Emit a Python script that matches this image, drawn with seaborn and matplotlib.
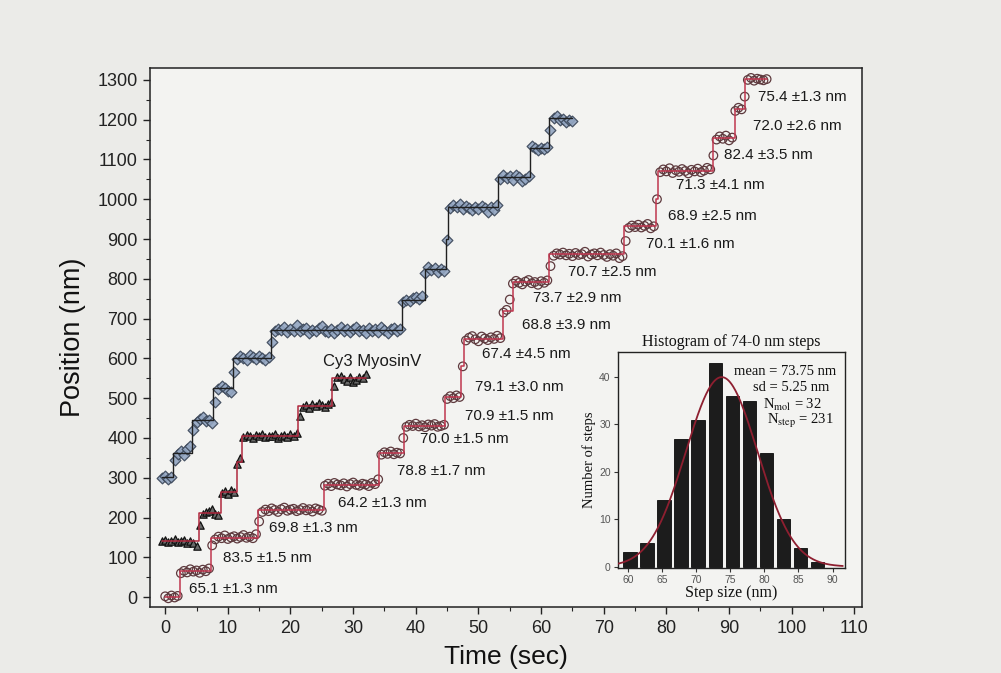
import numpy as np
import pandas as pd
import matplotlib
matplotlib.use("Agg")
import matplotlib.pyplot as plt
import seaborn as sns

# ---------------- data ----------------
FRAME_DT = 0.5  # seconds between frames

# Trace with open circles (annotated trace)
circ_t0 = 0.0
circ_pos = [
    2, -3, 4, -1, 3,
    60, 66, 62, 70, 64, 67, 61, 69, 65, 72,
    130, 145, 152, 148, 155, 146, 150, 153, 147, 151, 156, 149, 152, 148, 158,
    190, 214, 220, 216, 223, 219, 214, 221, 225, 217, 220, 222, 216, 219, 224, 218, 221, 215, 223, 220, 217,
    280, 285, 279, 287, 283, 281, 286, 278, 284, 288, 282, 280, 285, 283, 279, 287, 284, 296,
    358, 364, 360, 366, 359, 363, 361, 400,
    428, 433, 430, 436, 429, 432, 427, 434, 431, 435, 428, 430, 433,
    498, 505, 500, 507, 503,
    580,
    645, 652, 656, 648, 643, 655, 650, 646, 653, 649, 657, 651,
    715, 722, 748,
    788, 795, 790, 786, 793, 797, 789, 792, 785, 794, 790, 796,
    832, 858, 864, 861, 866, 859, 863, 857, 865, 860, 862, 868, 856, 861, 864, 859, 866, 860, 855, 862, 858, 864, 852, 857,
    895, 928, 934, 930, 936, 929, 933, 938, 927, 932,
    1000,
    1068, 1075, 1070, 1078, 1066, 1073, 1069, 1076, 1071, 1065, 1074, 1070, 1077, 1068, 1072, 1079, 1075,
    1110,
    1150, 1158, 1152, 1160, 1148, 1155,
    1222, 1230, 1226, 1258,
    1300, 1305, 1298, 1303, 1301, 1299, 1302,
]
circ_levels = [0, 65, 149, 218, 283, 361, 431, 502, 581, 648, 718, 791, 862, 932,
               1001, 1072, 1155, 1227, 1302]
circ_step_times = [2.4, 7.3, 14.8, 25.3, 34.1, 38.1, 44.7, 47.2, 47.7, 54.0, 55.5,
                   61.2, 73.2, 78.3, 78.7, 87.4, 91.0, 92.6]
circ_t_start, circ_t_end = 0.0, 96.0

# Trace with diamonds
dia_t0 = -0.5
dia_pos = [
    300, 305, 298, 303,
    345, 360, 366, 358, 372, 380,
    420, 440, 448, 452, 443, 446, 438,
    490, 522, 530, 526, 519, 515,
    565, 598, 605, 600, 596, 608, 603, 599, 606, 601, 597, 604,
    640, 668, 675, 671, 679, 666, 673, 670, 684, 669, 674, 677, 665, 672, 668, 676, 681, 670, 667,
    674, 663, 671, 678, 669, 673, 666, 675, 680, 668, 672, 664, 677, 670, 674, 667, 679, 671, 665,
    673, 676, 669, 674,
    742, 748, 745, 752, 755, 749, 758,
    815, 830, 822, 826, 818, 824, 820,
    898,
    978, 985, 980, 988, 976, 983, 979, 972, 981, 975, 984, 977, 969, 980, 974, 986,
    1050, 1060, 1054, 1058, 1048, 1062, 1055, 1045, 1052, 1058,
    1135, 1128, 1124, 1130, 1126, 1132,
    1175, 1205, 1210, 1198, 1202, 1195, 1200, 1196,
]
dia_levels = [302, 362, 445, 525, 601, 672, 747, 825, 900, 981, 1056, 1129, 1204]
dia_step_times = [1.3, 4.3, 7.6, 10.8, 16.9, 37.8, 41.4, 44.8, 45.2, 53.1, 58.2, 61.2]
dia_t_start, dia_t_end = -0.5, 65.0

# Trace with triangles (Cy3 MyosinV)
tri_t0 = -0.5
tri_pos = [
    140, 143, 138, 142, 145, 139, 141, 144, 137, 142, 135, 128,
    180, 208, 213, 216, 221, 210, 206,
    262, 266, 260, 268, 265,
    335, 350,
    403, 408, 404, 400, 407, 405, 410, 402, 406, 404, 409, 401, 405, 407, 403, 411, 406, 412,
    455, 478, 483, 476, 485, 480, 487, 482, 479, 486, 490,
    530, 552, 557, 549, 544, 552, 540, 546, 553, 550, 562,
]
tri_levels = [141, 211, 264, 340, 405, 480, 550]
tri_step_times = [5.4, 8.9, 11.5, 12.3, 21.2, 26.6]
tri_t_start, tri_t_end = -0.5, 32.0

# Step-size annotations
step_labels = ["65.1 \u00b11.3 nm", "83.5 \u00b11.5 nm", "69.8 \u00b11.3 nm", "64.2 \u00b11.3 nm",
               "78.8 \u00b11.7 nm", "70.0 \u00b11.5 nm", "70.9 \u00b11.5 nm", "79.1 \u00b13.0 nm",
               "67.4 \u00b14.5 nm", "68.8 \u00b13.9 nm", "73.7 \u00b12.9 nm", "70.7 \u00b12.5 nm",
               "70.1 \u00b11.6 nm", "68.9 \u00b12.5 nm", "71.3 \u00b14.1 nm", "82.4 \u00b13.5 nm",
               "72.0 \u00b12.6 nm", "75.4 \u00b11.3 nm"]
label_t = [3.8, 9.2, 16.6, 27.6, 37.0, 40.6, 47.8, 49.5, 50.5, 57.0, 58.7, 64.3,
           76.8, 80.3, 81.5, 89.2, 93.8, 94.6]
label_pos = [20, 98, 174, 237, 318, 397, 455, 528, 611, 685, 753, 818,
             888, 958, 1035, 1111, 1183, 1256]

# Histogram inset
hist_centers = [60.3, 62.8, 65.3, 67.8, 70.3, 72.8, 75.3, 77.8, 80.3, 82.8, 85.3, 87.8]
hist_counts = [3, 5, 14, 27, 31, 43, 36, 35, 24, 10, 4, 1]
fit_mean, fit_sd, fit_peak = 73.75, 5.25, 40.0
n_mol, n_step = 32, 231

# ---------------- figure ----------------
sns.set_theme(style="ticks")
plt.rcParams['font.family'] = ['Liberation Sans', 'DejaVu Sans']
plt.rcParams['mathtext.fontset'] = 'stix'

BG = '#ebebe8'
AXBG = '#f3f3f1'
fig = plt.figure(figsize=(10.01, 6.73), dpi=100)
fig.patch.set_facecolor(BG)
ax = fig.add_axes([0.150, 0.098, 0.711, 0.801])
ax.set_facecolor(AXBG)


def frame_times(t0, n):
    return [t0 + FRAME_DT * i for i in range(n)]


def step_xy(t_start, steps, t_end, levels):
    xs = [t_start] + list(steps) + [t_end]
    ys = list(levels) + [levels[-1]]
    return xs, ys


# diamonds
sns.scatterplot(x=frame_times(dia_t0, len(dia_pos)), y=dia_pos, marker='D', s=30,
                facecolor='#93a6c2', edgecolor='#3a4658', linewidth=0.9, alpha=0.9,
                ax=ax, zorder=3)
xs, ys = step_xy(dia_t_start, dia_step_times, dia_t_end, dia_levels)
sns.lineplot(x=xs, y=ys, drawstyle='steps-post', estimator=None, sort=False,
             color='#202020', lw=1.0, ax=ax, zorder=4)

# triangles
sns.scatterplot(x=frame_times(tri_t0, len(tri_pos)), y=tri_pos, marker='^', s=28,
                facecolor='#6a6a6a', edgecolor='#111111', linewidth=0.9,
                ax=ax, zorder=3)
xs, ys = step_xy(tri_t_start, tri_step_times, tri_t_end, tri_levels)
sns.lineplot(x=xs, y=ys, drawstyle='steps-post', estimator=None, sort=False,
             color='#b0283e', lw=1.1, ax=ax, zorder=4)

# circles
sns.scatterplot(x=frame_times(circ_t0, len(circ_pos)), y=circ_pos, marker='o', s=38,
                facecolor='none', edgecolor='#5e3a3e', linewidth=0.9,
                ax=ax, zorder=3)
xs, ys = step_xy(circ_t_start, circ_step_times, circ_t_end, circ_levels)
sns.lineplot(x=xs, y=ys, drawstyle='steps-post', estimator=None, sort=False,
             color='#c0364f', lw=1.1, ax=ax, zorder=4)

for txt, tx, ty in zip(step_labels, label_t, label_pos):
    ax.text(tx, ty, txt, fontsize=11, ha='left', va='center', color='#1a1a1a', zorder=5)
ax.text(25.2, 591, "Cy3 MyosinV", fontsize=12, ha='left', va='center', color='#1a1a1a')

ax.set_xlim(-2.4, 111.2)
ax.set_ylim(-25, 1330)
ax.set_xticks(np.arange(0, 111, 10))
ax.set_yticks(np.arange(0, 1301, 100))
ax.set_xticks(np.arange(0, 111, 5), minor=True)
ax.set_yticks(np.arange(0, 1301, 50), minor=True)
ax.tick_params(which='major', direction='out', length=5, width=1, labelsize=13,
               colors='#222222', pad=4)
ax.tick_params(which='minor', direction='out', length=3, width=0.8, colors='#222222')
for sp in ax.spines.values():
    sp.set_color('#222222')
    sp.set_linewidth(1.1)
ax.set_xlabel("Time (sec)", fontsize=19, color='#111111', labelpad=6)
ax.set_ylabel("Position (nm)", fontsize=19.5, color='#111111', labelpad=8)

# ---------------- inset histogram ----------------
axin = fig.add_axes([0.617, 0.156, 0.227, 0.321])
axin.set_facecolor(AXBG)
edges = [c - 1.25 for c in hist_centers] + [hist_centers[-1] + 1.25]
sns.histplot(x=hist_centers, weights=hist_counts, bins=edges, shrink=0.78,
             color='#1c1c1c', edgecolor='#0a0a0a', alpha=1.0, linewidth=0.6, ax=axin)
xs = np.linspace(58.6, 91.5, 300)
ys = fit_peak * np.exp(-0.5 * ((xs - fit_mean) / fit_sd) ** 2)
sns.lineplot(x=xs, y=ys, color='#8e1f30', lw=1.3, ax=axin, zorder=5)
axin.set_xlim(58.5, 91.8)
axin.set_ylim(-0.3, 45.3)
axin.set_xticks(np.arange(60, 91, 5))
axin.set_yticks(np.arange(0, 41, 10))
axin.tick_params(direction='out', length=3, width=0.8, labelsize=7.5, colors='#333333', pad=2)
for lab in axin.get_xticklabels() + axin.get_yticklabels():
    lab.set_color('#555555')
for sp in axin.spines.values():
    sp.set_color('#222222')
    sp.set_linewidth(1.0)
serif = ['Liberation Serif', 'DejaVu Serif']
axin.set_xlabel("Step size (nm)", fontsize=11.5, family=serif, color='#111111', labelpad=0)
axin.set_ylabel("Number of steps", fontsize=10.5, family=serif, color='#111111', labelpad=2)
axin.set_title("Histogram of 74-0 nm steps", fontsize=11.5, family=serif, color='#111111', pad=4)
stats = [f"mean = {fit_mean:.2f} nm", f"sd = {fit_sd:.2f} nm",
         r"N$_{\mathrm{mol}}$ = " + str(n_mol), r"N$_{\mathrm{step}}$ = " + str(n_step)]
stat_x = [0.96, 0.93, 0.90, 0.95]
stat_y = [0.91, 0.835, 0.755, 0.68]
for s, sx, sy in zip(stats, stat_x, stat_y):
    axin.text(sx, sy, s, transform=axin.transAxes, ha='right', va='center',
              fontsize=10.5, family=serif, color='#111111')

fig.savefig("out.png", dpi=100, facecolor=BG)
